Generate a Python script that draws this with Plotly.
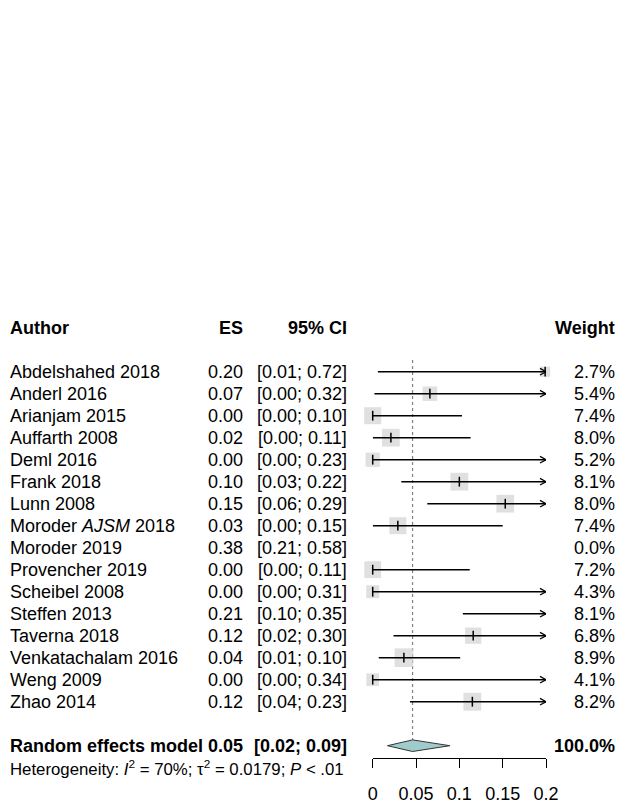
import math
import plotly.graph_objects as go

# ---------------- data ----------------
authors = ["Abdelshahed 2018", "Anderl 2016", "Arianjam 2015", "Auffarth 2008",
           "Deml 2016", "Frank 2018", "Lunn 2008", "Moroder <i>AJSM</i> 2018",
           "Moroder 2019", "Provencher 2019", "Scheibel 2008", "Steffen 2013",
           "Taverna 2018", "Venkatachalam 2016", "Weng 2009", "Zhao 2014"]
es = [0.199, 0.066, 0.000, 0.021, 0.000, 0.100, 0.153, 0.029,
      0.380, 0.000, 0.000, 0.210, 0.116, 0.036, 0.000, 0.115]
ci_lo = [0.006, 0.002, 0.000, 0.000, 0.000, 0.033, 0.063, 0.000,
         0.210, 0.000, 0.000, 0.104, 0.024, 0.007, 0.000, 0.043]
ci_hi = [0.720, 0.320, 0.103, 0.113, 0.230, 0.220, 0.290, 0.150,
         0.580, 0.112, 0.310, 0.350, 0.300, 0.101, 0.340, 0.230]
weight = [2.7, 5.4, 7.4, 8.0, 5.2, 8.1, 8.0, 7.4,
          0.0, 7.2, 4.3, 8.1, 6.8, 8.9, 4.1, 8.2]

pooled_label = "Random effects model"
pooled_est, pooled_lo, pooled_hi = 0.046, 0.017, 0.089
pooled_weight = 100.0
het_text = ("Heterogeneity: <i>I</i><sup>2</sup> = 70%; &#964;<sup>2</sup> = 0.0179; "
            "<i>P</i> &lt; .01")

tick_vals = [0, 0.05, 0.1, 0.15, 0.2]
tick_text = ["0", "0.05", "0.1", "0.15", "0.2"]
x_min, x_max = 0.0, 0.2

# ---------------- layout geometry (page pixels) ----------------
PAGE_W, PAGE_H = 625, 806
OFF = 8                      # default page margin around the figure
W, H = PAGE_W - OFF, PAGE_H - OFF
FONT = "Liberation Sans, Arial, Helvetica, sans-serif"
FS = 18
row0_px, row_h = 371.7 - OFF, 22.0
x0_px, x1_px = 372.7 - OFF, 546.0 - OFF
axis_px = 758 - OFF
col_author = max(7 - OFF, 0)
col_es = 245 - OFF
col_ci = 349 - OFF
col_w = 617 - OFF

n = len(authors)
rows = list(range(n))
header_row = -2
pooled_row = n + 1
het_row = n + 2

px_per_unit = (x1_px - x0_px) / (x_max - x_min)

fig = go.Figure()

# dotted reference line at pooled estimate
fig.add_shape(type="line", xref="x", yref="y",
              x0=pooled_est, x1=pooled_est, y0=-0.53, y1=pooled_row - 0.27,
              line=dict(color="#808080", width=1.2, dash="dot"), layer="below")

# squares (area proportional to weight)
sq_x, sq_y, sq_s = [], [], []
for r, e, w in zip(rows, es, weight):
    if w > 0 and x_min <= e <= x_max:
        sq_x.append(e)
        sq_y.append(r)
        sq_s.append(6.25 * math.sqrt(w))
fig.add_trace(go.Scatter(x=sq_x, y=sq_y, mode="markers", cliponaxis=False,
                         marker=dict(symbol="square", size=sq_s, color="#d3d3d3",
                                     line=dict(width=0)),
                         hoverinfo="skip"))

# CI lines and arrows
lx, ly, ax_, ay_ = [], [], [], []
ahx = 6 / px_per_unit
ahy = 3.3 / row_h
for r, l, h in zip(rows, ci_lo, ci_hi):
    if l >= x_max or h <= x_min:
        continue
    a = max(l, x_min)
    b = min(h, x_max)
    lx += [a, b, None]
    ly += [r, r, None]
    if h > x_max:
        ax_ += [x_max - ahx, x_max, x_max - ahx, None]
        ay_ += [r - ahy, r, r + ahy, None]
fig.add_trace(go.Scatter(x=lx, y=ly, mode="lines", cliponaxis=False,
                         line=dict(color="black", width=1.4), hoverinfo="skip"))
fig.add_trace(go.Scatter(x=ax_, y=ay_, mode="lines", cliponaxis=False,
                         line=dict(color="black", width=1.2), hoverinfo="skip"))

# estimate ticks
fig.add_trace(go.Scatter(x=sq_x, y=sq_y, mode="markers", cliponaxis=False,
                         marker=dict(symbol="line-ns", size=7, color="black",
                                     line=dict(width=1.5, color="black")),
                         hoverinfo="skip"))

# diamond
dh = 5.8 / row_h
fig.add_trace(go.Scatter(
    x=[pooled_lo, pooled_est, pooled_hi, pooled_est, pooled_lo],
    y=[pooled_row, pooled_row - dh, pooled_row, pooled_row + dh, pooled_row],
    mode="lines", fill="toself", fillcolor="#9fcbcb", cliponaxis=False,
    line=dict(color="#333333", width=1), hoverinfo="skip"))

# ---------------- text columns ----------------
ann = []


def txt(x_px, row, text, anchor, size=FS):
    ann.append(dict(x=x_px / W, y=row, xref="paper", yref="y", text=text,
                    xanchor=anchor, yanchor="middle", showarrow=False,
                    font=dict(family=FONT, size=size, color="black")))


txt(col_author, header_row, "<b>Author</b>", "left")
txt(col_es, header_row, "<b>ES</b>", "right")
txt(col_ci, header_row, "<b>95% CI</b>", "right")
txt(col_w, header_row, "<b>Weight</b>", "right")

for r, a, e, l, h, w in zip(rows, authors, es, ci_lo, ci_hi, weight):
    txt(col_author, r, a, "left")
    txt(col_es, r, f"{e:.2f}", "right")
    txt(col_ci, r, f"[{l:.2f}; {h:.2f}]", "right")
    txt(col_w, r, f"{w:.1f}%", "right")

txt(col_author, pooled_row, f"<b>{pooled_label}</b>", "left")
txt(col_es, pooled_row, f"<b>{pooled_est:.2f}</b>", "right")
txt(col_ci, pooled_row, f"<b>[{pooled_lo:.2f}; {pooled_hi:.2f}]</b>", "right")
txt(col_w, pooled_row, f"<b>{pooled_weight:.1f}%</b>", "right")
txt(col_author, het_row, het_text, "left", size=16.8)

fig.update_layout(
    template="none", autosize=False,
    width=W, height=H, margin=dict(l=0, r=0, t=0, b=0, pad=0, autoexpand=False),
    paper_bgcolor="white", plot_bgcolor="white", showlegend=False,
    annotations=ann,
    xaxis=dict(domain=[x0_px / W, x1_px / W], range=[x_min, x_max],
               anchor="free", position=1 - axis_px / H, automargin=False,
               showline=True, linecolor="black", linewidth=1,
               ticks="outside", ticklen=9, tickwidth=1, tickcolor="black",
               tickvals=tick_vals, ticktext=tick_text,
               tickfont=dict(family=FONT, size=FS, color="black"),
               ticklabelstandoff=10,
               showgrid=False, zeroline=False, fixedrange=True),
    yaxis=dict(domain=[0, 1], range=[(H - row0_px) / row_h, -row0_px / row_h],
               visible=False, automargin=False, fixedrange=True),
)

fig.write_html("out.html")
